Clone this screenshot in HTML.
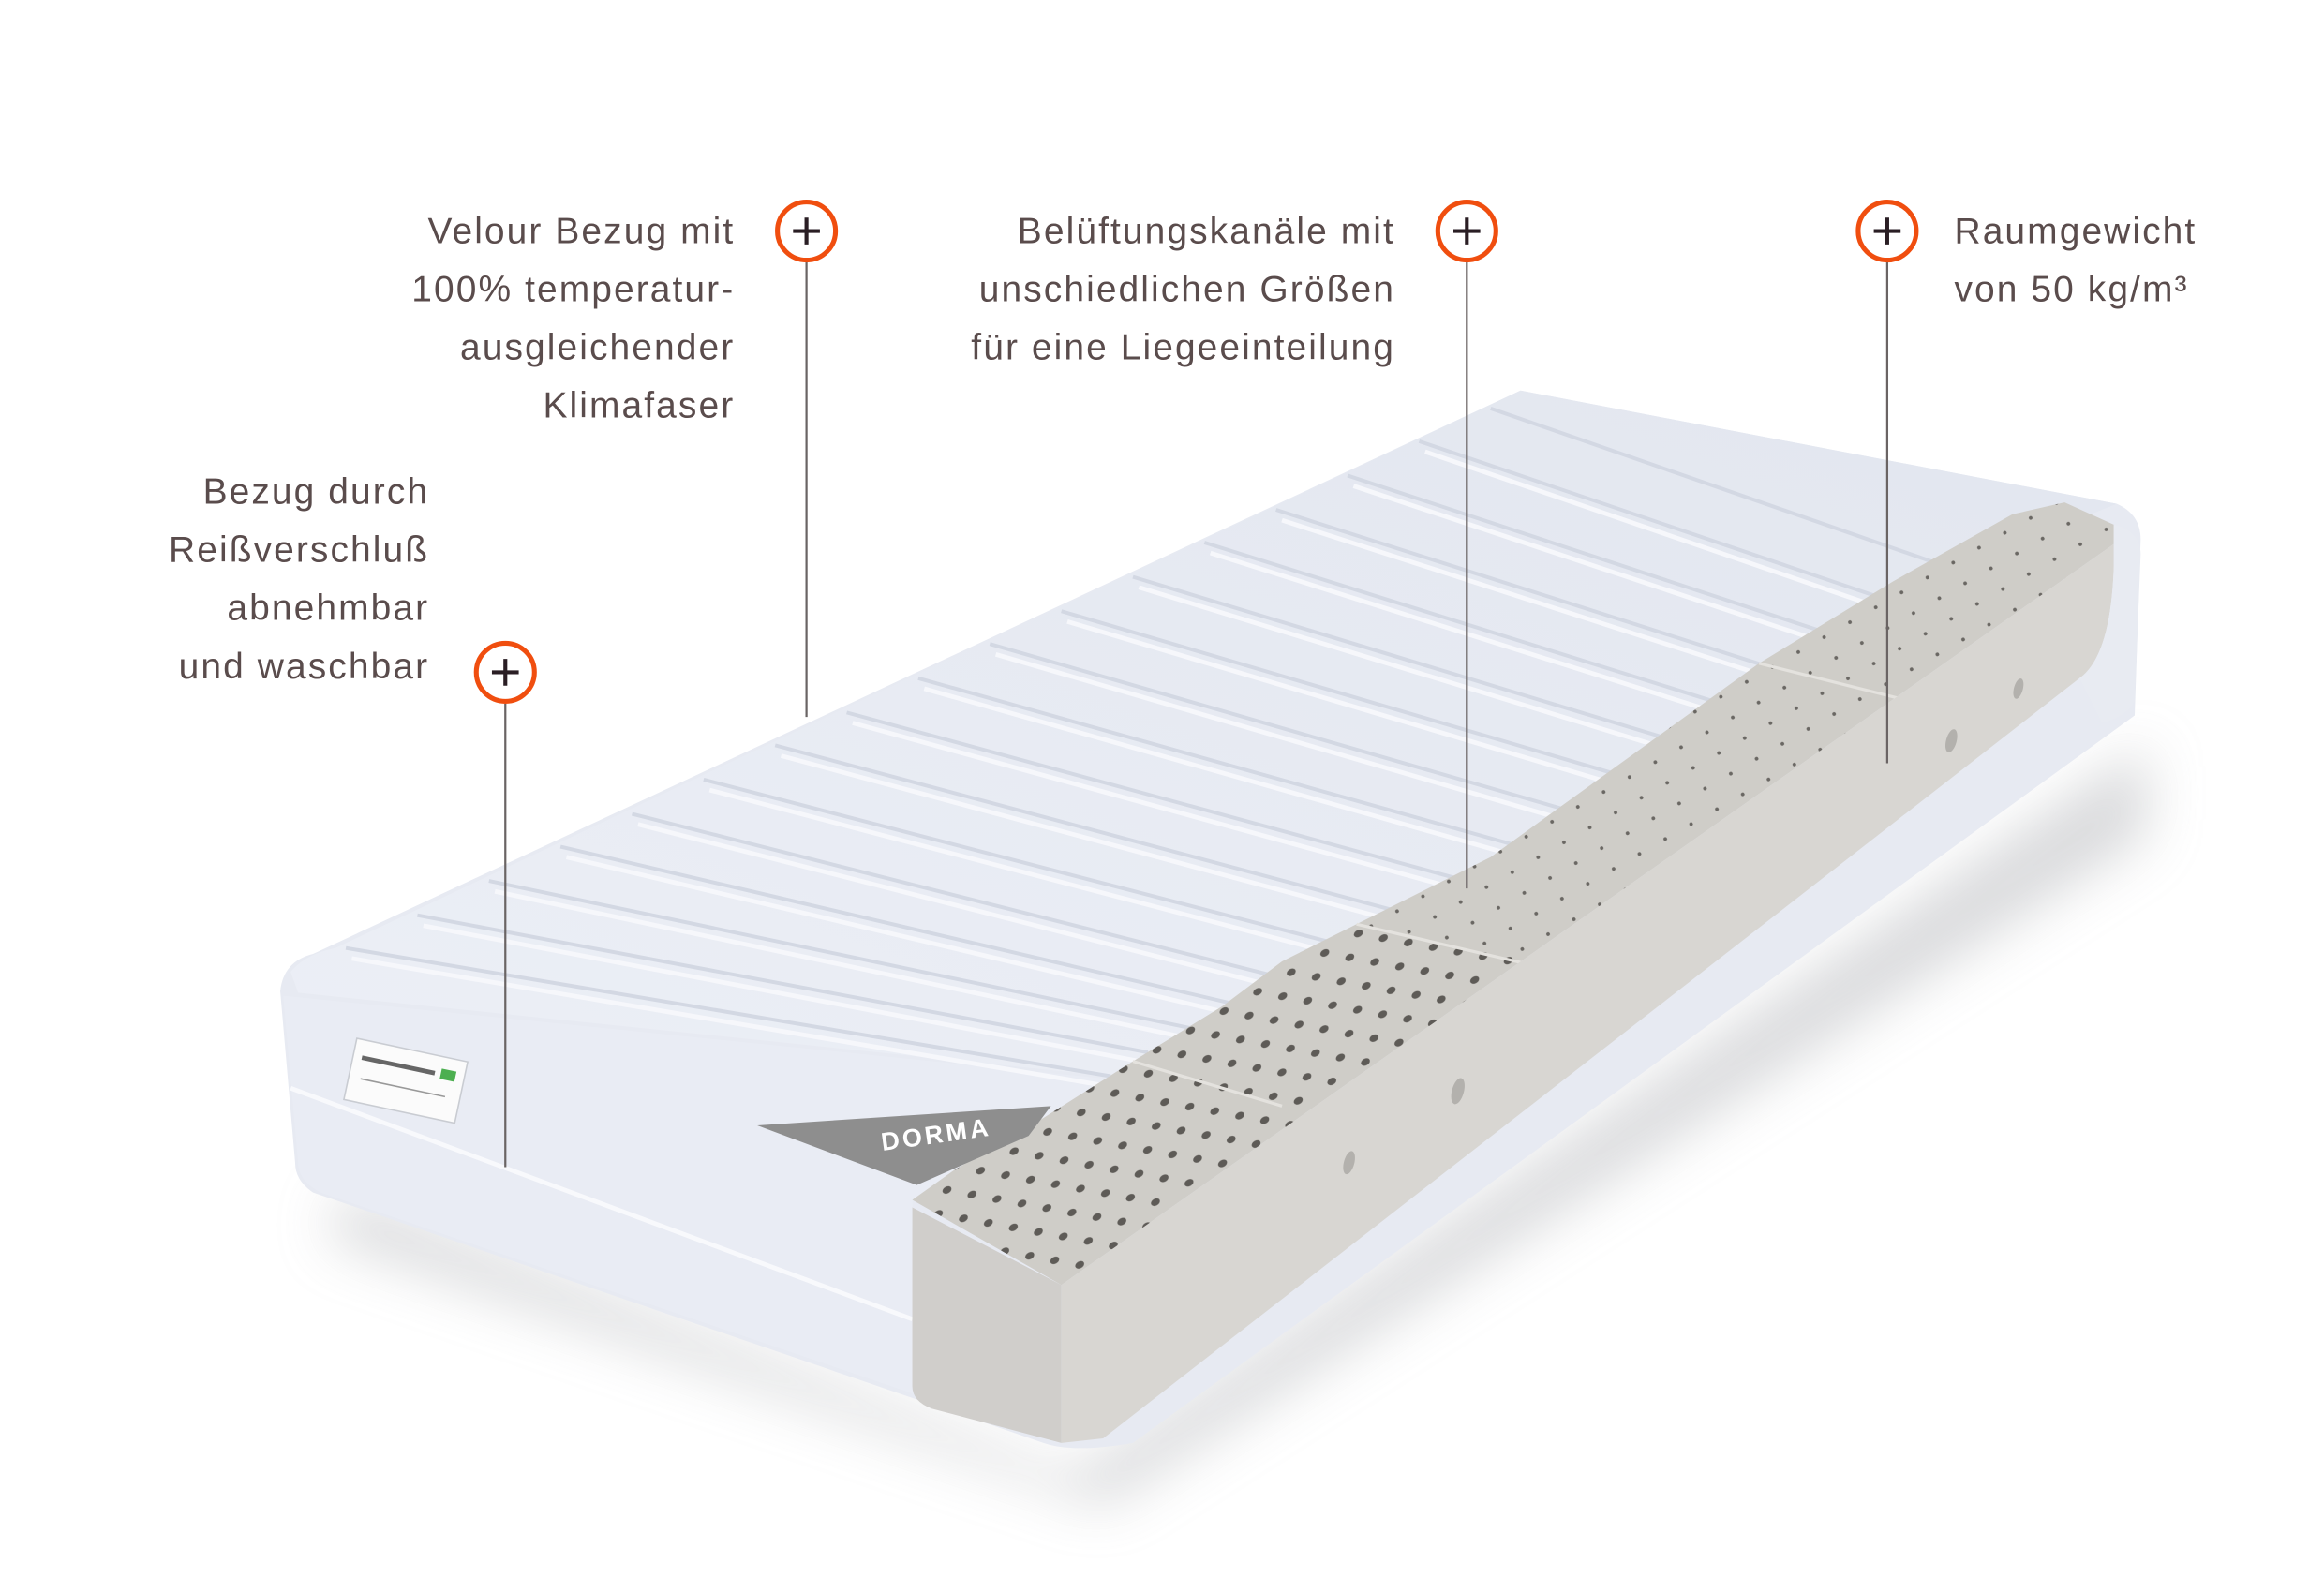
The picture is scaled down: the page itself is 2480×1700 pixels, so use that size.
<!DOCTYPE html>
<html><head><meta charset="utf-8">
<style>
html,body{margin:0;padding:0;background:#fff;}
svg{display:block;}
text{font-family:"Liberation Sans",sans-serif;fill:#5a4c4c;font-size:24.5px;letter-spacing:1.3px;}
</style></head>
<body>
<svg width="2480" height="1700" viewBox="0 0 1559 1068.7" preserveAspectRatio="none" xmlns="http://www.w3.org/2000/svg">
<defs>
<filter id="bl" x="-20%" y="-50%" width="140%" height="200%"><feGaussianBlur stdDeviation="18"/></filter>
<pattern id="dots" width="26" height="22" patternUnits="userSpaceOnUse" patternTransform="rotate(-30)">
<ellipse cx="8" cy="8" rx="3.2" ry="2.3" fill="#5e5b57"/>
<ellipse cx="21" cy="19" rx="3.2" ry="2.3" fill="#5e5b57"/>
</pattern>
<pattern id="dots2" width="20" height="16" patternUnits="userSpaceOnUse" patternTransform="rotate(-30)">
<circle cx="6" cy="6" r="1.2" fill="#6a6763"/>
</pattern>
<linearGradient id="top" x1="0" y1="1" x2="1" y2="0">
<stop offset="0" stop-color="#eceff6"/><stop offset="1" stop-color="#e2e6ef"/>
</linearGradient>
</defs>
<rect width="1559" height="1069" fill="#fff"/>
<path d="M230,800 L720,990 L1440,500 L1440,560 L740,1010 L220,830 Z" fill="#c8c9cc" filter="url(#bl)" opacity="0.7"/>
<path d="M188,665 Q190,645 210,640 L1020,262 L1420,338 Q1436,345 1436,362 L1432,480 L760,968 Q720,975 700,968 L210,800 Q198,792 198,780 Z" fill="#e7eaf2"/>
<path d="M190,668 L745,724 L612,805 L612,895 L710,968 L215,800 Q200,792 200,780 Z" fill="#e9ecf4"/>
<line x1="195" y1="730" x2="612" y2="885" stroke="#f8f9fc" stroke-width="3"/>
<path d="M195,652 Q205,640 225,636 L1020,262 L1420,338 L1395,348 L745,722 L200,666 Z" fill="url(#top)"/>
<g stroke="#d3d8e3" stroke-width="2.5" fill="none">
<path d="M232,636 L745,722"/><path d="M280,614 L770,706"/><path d="M328,591 L800,690"/><path d="M376,568 L830,674"/><path d="M424,546 L860,656"/><path d="M472,523 L900,634"/><path d="M520,500 L940,612"/><path d="M568,478 L980,590"/><path d="M616,455 L1020,568"/><path d="M664,432 L1060,546"/><path d="M712,410 L1100,524"/><path d="M760,387 L1140,502"/><path d="M808,364 L1180,480"/><path d="M856,342 L1220,458"/><path d="M904,319 L1260,436"/><path d="M952,296 L1300,414"/><path d="M1000,274 L1340,392"/>
</g>
<g stroke="#f6f7fb" stroke-width="3" fill="none">
<path d="M236,643 L745,729"/><path d="M284,621 L770,713"/><path d="M332,598 L800,697"/><path d="M380,575 L830,681"/><path d="M428,553 L860,663"/><path d="M476,530 L900,641"/><path d="M524,507 L940,619"/><path d="M572,485 L980,597"/><path d="M620,462 L1020,575"/><path d="M668,439 L1060,553"/><path d="M716,417 L1100,531"/><path d="M764,394 L1140,509"/><path d="M812,371 L1180,487"/><path d="M860,349 L1220,465"/><path d="M908,326 L1260,443"/><path d="M956,303 L1300,421"/>
</g>
<g transform="rotate(12 272 726)">
<rect x="234" y="704" width="76" height="42" fill="#fbfbfb" stroke="#c9ccd2"/>
<line x1="240" y1="716" x2="290" y2="716" stroke="#666" stroke-width="3"/>
<rect x="294" y="712" width="10" height="7" fill="#4caf50"/>
<line x1="242" y1="730" x2="300" y2="730" stroke="#999" stroke-width="1"/>
</g>
<path d="M612,805 L640,785 L700,750 L760,712 L820,675 L860,645 L910,620 L1000,575 L1180,445 L1270,390 L1350,345 L1385,337 L1418,352 L1418,365 L712,862 Z" fill="#cfcdc8"/>
<path d="M612,805 L640,785 L700,750 L760,712 L820,675 L860,645 L910,620 L1030,645 L712,862 Z" fill="url(#dots)"/>
<path d="M910,620 L1000,575 L1180,445 L1270,390 L1350,345 L1385,337 L1418,352 L1418,365 L1030,645 Z" fill="url(#dots2)"/>
<line x1="760" y1="712" x2="860" y2="742" stroke="#e4e2de" stroke-width="2"/>
<line x1="910" y1="620" x2="1030" y2="648" stroke="#e4e2de" stroke-width="2"/>
<line x1="1180" y1="445" x2="1280" y2="470" stroke="#e4e2de" stroke-width="2"/>
<path d="M508,755 L705,742 L690,762 L615,795 Z" fill="#8e8e8e"/>
<text x="592" y="772" transform="rotate(-8 592 772)" style="fill:#fff;font-weight:bold;font-size:17px;letter-spacing:2px">DORMA</text>
<path d="M612,810 L712,862 L712,968 L625,945 Q612,940 612,930 Z" fill="#d0cecb"/>
<path d="M712,862 L1418,365 L1418,380 Q1416,440 1395,455 L740,965 L712,968 Z" fill="#d8d6d2"/>
<path d="M1418,352 Q1436,356 1436,372 L1432,470 Q1428,480 1410,485 L1395,455 Q1416,440 1418,380 Z" fill="#e8ebf2"/>
<ellipse cx="978" cy="732" rx="4" ry="9" fill="#b3b1ad" transform="rotate(15 978 732)"/>
<ellipse cx="905" cy="780" rx="3.5" ry="8" fill="#b3b1ad" transform="rotate(15 905 780)"/>
<ellipse cx="1309" cy="497" rx="3.5" ry="8" fill="#b3b1ad" transform="rotate(15 1309 497)"/>
<ellipse cx="1354" cy="462" rx="3" ry="7" fill="#b3b1ad" transform="rotate(15 1354 462)"/>
<g stroke="#6a6464" stroke-width="1.4">
<line x1="541" y1="176" x2="541" y2="481"/>
<line x1="984" y1="176" x2="984" y2="596"/>
<line x1="1266" y1="176" x2="1266" y2="512"/>
<line x1="339" y1="472" x2="339" y2="783"/>
</g>
<g fill="#fff" stroke="#f04e0f" stroke-width="3.2">
<circle cx="541" cy="155" r="19.5"/>
<circle cx="984" cy="155" r="19.5"/>
<circle cx="1266" cy="155" r="19.5"/>
<circle cx="339" cy="451" r="19.5"/>
</g>
<g stroke="#2a1e24" stroke-width="2.6">
<path d="M532,155 H550 M541,146 V164"/>
<path d="M975,155 H993 M984,146 V164"/>
<path d="M1257,155 H1275 M1266,146 V164"/>
<path d="M330,451 H348 M339,442 V460"/>
</g>
<g text-anchor="end">
<text x="493" y="163">Velour Bezug mit</text>
<text x="493" y="202">100% temperatur-</text>
<text x="493" y="241">ausgleichender</text>
<text x="493" y="280">Klimafaser</text>
<text x="936" y="163">Belüftungskanäle mit</text>
<text x="936" y="202">unschiedlichen Größen</text>
<text x="936" y="241">für eine Liegeeinteilung</text>
<text x="288" y="338">Bezug durch</text>
<text x="288" y="377">Reißverschluß</text>
<text x="288" y="416">abnehmbar</text>
<text x="288" y="455">und waschbar</text>
</g>
<text x="1311" y="163">Raumgewicht</text>
<text x="1311" y="202">von 50 kg/m³</text>
</svg>
</body></html>
